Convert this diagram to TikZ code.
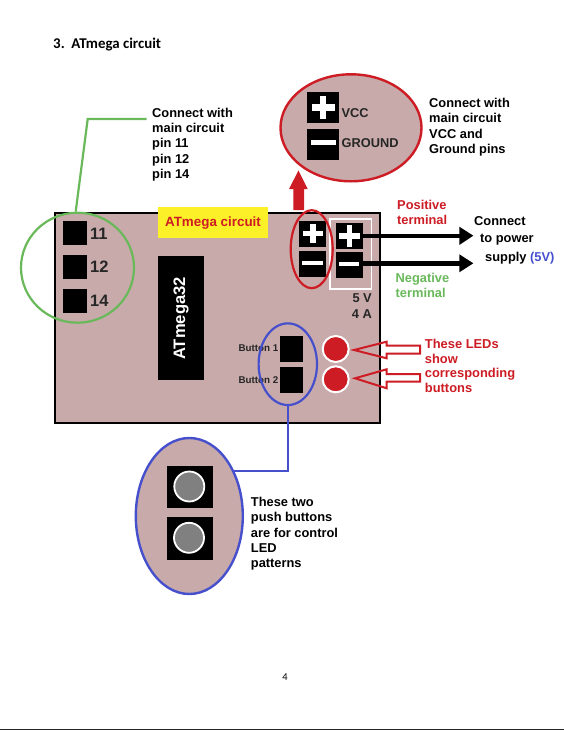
\documentclass[tikz,border=0pt]{standalone}
\usepackage{fontspec}
\setmainfont{Liberation Sans}
\newfontfamily\titlefont{Carlito}
\usetikzlibrary{shapes.geometric}
\definecolor{boardcol}{RGB}{200,170,170}
\definecolor{redcol}{RGB}{205,28,36}
\definecolor{greencol}{RGB}{105,185,90}
\definecolor{bluecol}{RGB}{70,80,205}
\definecolor{yellowcol}{RGB}{252,240,40}
\tikzset{
  note/.style={align=left,anchor=north west,font=\fontsize{12.85}{15.2}\selectfont\bfseries,inner sep=0pt},
  pad/.style={fill=black,minimum size=24pt,inner sep=0pt},
  pinlabel/.style={anchor=west,inner sep=0pt,font=\fontsize{16.5}{18}\selectfont\bfseries,text=black!85},
  biglabel/.style={anchor=west,inner sep=0pt,font=\fontsize{12.8}{14}\selectfont\bfseries,text=black!85},
  btnlabel/.style={anchor=east,inner sep=0pt,font=\fontsize{9.8}{11}\selectfont\bfseries,text=black!85},
  term/.style={fill=black,minimum width=27pt,minimum height=26pt,inner sep=0pt},
  bigterm/.style={fill=black,minimum width=32.5pt,minimum height=31.5pt,inner sep=0pt},
  boardbtn/.style={fill=black,minimum width=23.5pt,minimum height=26pt,inner sep=0pt},
  led/.style={circle,fill=redcol,draw=white,line width=2pt,minimum size=26pt,inner sep=0pt},
  pushbtn/.style={fill=black,minimum width=46pt,minimum height=42.5pt,inner sep=0pt},
  btncap/.style={circle,fill=gray,draw=white,line width=1.8pt,minimum size=30pt,inner sep=0pt},
  power/.style={line width=4.4pt},
  powertip/.style={fill=black},
  ring/.style={line width=2.2pt},
  callout/.style={draw=redcol,line width=2pt}
}
\newcommand{\plussign}[4]{%
  \fill[white] (#1-#3,#2-#4) rectangle (#1+#3,#2+#4);
  \fill[white] (#1-#4,#2-#3) rectangle (#1+#4,#2+#3);}
\newcommand{\minussign}[4]{%
  \fill[white] (#1-#3,#2-#4) rectangle (#1+#3,#2+#4);}
\begin{document}
\begin{tikzpicture}[x=1pt,y=-1pt]
  \useasboundingbox (0,0) rectangle (564,730);
  \fill[white] (0,0) rectangle (564,730);
  \fill[black!85] (0,729) rectangle (564,730);
  \node[anchor=west,font=\titlefont\fontsize{14.9}{16}\selectfont\bfseries,inner sep=0pt] (title) at (53,44.5) {3.\ \ ATmega circuit};

  % board
  \draw[fill=boardcol,line width=2pt] (54.5,212.7) rectangle (379.7,423);
  \node[fill=yellowcol,minimum width=109.5pt,minimum height=31pt,inner sep=0pt,text=redcol,font=\fontsize{13.4}{15}\selectfont\bfseries] (label) at (213,222.8) {ATmega circuit};
  \node[fill=black,minimum width=46pt,minimum height=124pt,inner sep=0pt] (chip) at (181,318) {};
  \node[rotate=90,text=white,font=\fontsize{16.6}{18}\selectfont\bfseries,inner sep=0pt] (chiptext) at (181,318.5) {ATmega32};

  % pins on the left
  \node[pad] (p11) at (75,233) {};
  \node[pad] (p12) at (75,267) {};
  \node[pad] (p14) at (75,301) {};
  \node[pinlabel] at (90,234) {11};
  \node[pinlabel] at (90,267) {12};
  \node[pinlabel] at (90,301) {14};
  \node[ellipse,draw=greencol,ring,minimum width=113pt,minimum height=110pt,inner sep=0pt] (pinring) at (77.5,267.7) {};
  \coordinate (elbow) at (87.7,119);
  \coordinate (notepin) at (146.7,119);
  \draw[greencol,ring] (pinring.north) ++(-1.8,0) -- (elbow) -- (notepin);
  \node[note] (pintext) at (152,108) {Connect with\\main circuit\\pin 11\\pin 12\\pin 14};

  % VCC and ground terminals
  \node[term] (vccpad) at (312.7,234.2) {};
  \node[term] (gndpad) at (312.7,264) {};
  \plussign{313}{233.5}{9.9}{2.8}
  \minussign{312.7}{262.7}{10.5}{2}
  \draw[white,line width=1.2pt] (330,219) rectangle (371.7,289);
  \node[term] (pospad) at (349,235.5) {};
  \node[term] (negpad) at (349,265) {};
  \plussign{349.3}{235.7}{10.8}{2.8}
  \minussign{349.3}{264}{10}{2}
  \node[ellipse,draw=redcol,ring,minimum width=42pt,minimum height=78pt,inner sep=0pt] (termring) at (311.7,249.2) {};

  % enlarged VCC and ground
  \node[ellipse,fill=boardcol,draw=redcol,line width=2.4pt,minimum width=141pt,minimum height=107pt,inner sep=0pt] (zoomring) at (351,127.8) {};
  \node[bigterm] (vccbig) at (323,107.7) {};
  \node[bigterm] (gndbig) at (323,144.3) {};
  \plussign{323}{107.7}{11.5}{3.3}
  \minussign{323}{142.8}{12.5}{2.3}
  \node[biglabel] at (341.5,112.7) {VCC};
  \node[biglabel] at (341.5,143) {GROUND};
  \node[note] (vcctext) at (429,98.2) {Connect with\\main circuit\\VCC and\\Ground pins};

  % red arrow up
  \fill[redcol] (293.3,210) -- (293.3,189) -- (289,189) -- (298.5,170.5) -- (307.7,189) -- (304,189) -- (304,210) -- cycle;

  % supply arrows
  \coordinate (postip) at (473.3,235.7);
  \coordinate (negtip) at (473.3,263.3);
  \draw[power] (pospad.east |- postip) -- (460,235.7);
  \draw[power] (negpad.east |- negtip) -- (460,263.3);
  \fill[powertip] (459.3,226.7) -- (postip) -- (459.3,245) -- cycle;
  \fill[powertip] (459.3,254.3) -- (negtip) -- (459.3,272.3) -- cycle;
  \node[note,text=redcol] (postext) at (397,200) {Positive\\terminal};
  \node[note,text=greencol] (negtext) at (395.5,272.8) {Negative\\terminal};
  \node[note] at (474,216) {Connect};
  \node[note] at (480,234) {to power};
  \node[note] (supplytext) at (485,252) {supply {\color{bluecol}(5V)}};
  \node[note,align=right,anchor=north east,text=black!85] (ratetext) at (372,293.8) {5 V\\4 A};

  % push buttons on the board
  \node[boardbtn] (btna) at (291.6,348.7) {};
  \node[boardbtn] (btnb) at (291.6,380) {};
  \node[btnlabel] at (278.5,348) {Button 1};
  \node[btnlabel] at (278.5,380) {Button 2};
  \node[ellipse,draw=bluecol,ring,minimum width=58.4pt,minimum height=81.7pt,inner sep=0pt] (btnring) at (287.8,364.2) {};

  % LEDs
  \node[led] (leda) at (335.7,349) {};
  \node[led] (ledb) at (335.7,379.3) {};
  \draw[callout] (354,350) -- (386.7,341.7) -- (386.7,345.7) -- (420,345.7) -- (420,353.7) -- (386.7,353.7) -- (386.7,358.3) -- cycle;
  \draw[callout] (355,378.3) -- (386.7,369.3) -- (386.7,374) -- (420,374) -- (420,381.7) -- (386.7,381.7) -- (386.7,388.3) -- cycle;
  \node[note,text=redcol,font=\fontsize{12.9}{14.7}\selectfont\bfseries] (ledtext) at (424.7,339) {These LEDs\\show\\corresponding\\buttons};

  % enlarged push buttons
  \node[ellipse,fill=boardcol,draw=bluecol,line width=2.4pt,minimum width=107pt,minimum height=156pt,inner sep=0pt] (zoombtn) at (189.3,516) {};
  \node[pushbtn] (btnc) at (190.3,487) {};
  \node[pushbtn] (btnd) at (189.7,538.3) {};
  \node[btncap] (capc) at (189.3,486.5) {};
  \node[btncap] (capd) at (189,537.8) {};
  \coordinate (corner) at (288.3,470.7);
  \draw[bluecol,ring] (btnring.south) -- (btnring.south |- corner) -- (233,470.7);
  \node[note] (btntext) at (250.7,497.2) {These two\\push buttons\\are for control\\LED\\patterns};

  \node[inner sep=0pt,font=\titlefont\fontsize{10.5}{12}\selectfont] (pagenum) at (285,677) {4};
\end{tikzpicture}
\end{document}
